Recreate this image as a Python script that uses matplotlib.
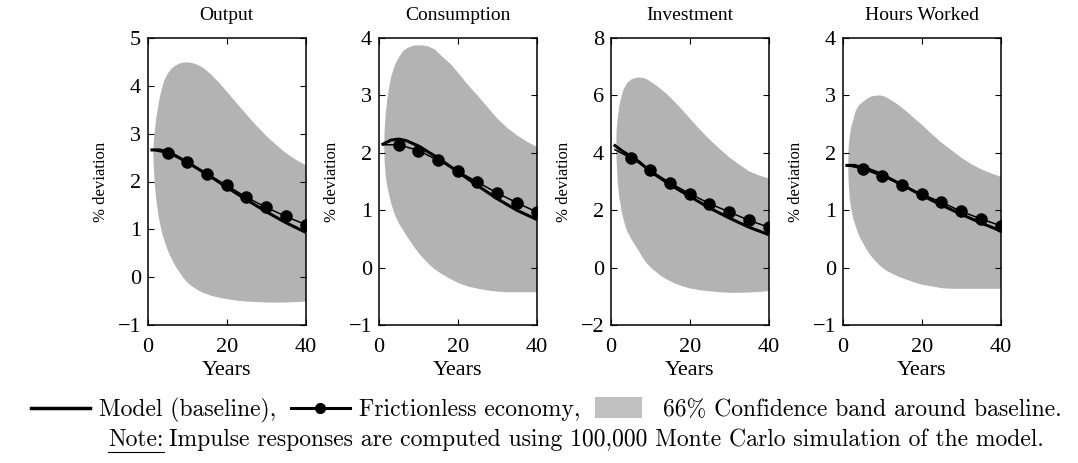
import matplotlib
matplotlib.use("Agg")
import matplotlib.pyplot as plt
from matplotlib.lines import Line2D
from matplotlib.patches import Patch, Rectangle
from matplotlib.legend_handler import HandlerPatch

# Panel titles and y-axis setup
titles = ["Output", "Consumption", "Investment", "Hours Worked"]
ylims = [(-1, 5), (-1, 4), (-2, 8), (-1, 4)]
ysteps = [1, 1, 2, 1]

# Model (baseline) impulse responses
model_x = [1, 3, 5, 7, 10, 15, 20, 25, 30, 35, 40]
model_output = [2.66, 2.66, 2.62, 2.54, 2.40, 2.15, 1.88, 1.62, 1.37, 1.14, 0.94]
model_cons = [2.15, 2.22, 2.24, 2.21, 2.12, 1.91, 1.67, 1.43, 1.20, 1.00, 0.84]
model_inv = [4.25, 4.05, 3.88, 3.70, 3.35, 2.89, 2.48, 2.08, 1.73, 1.41, 1.15]
model_hours = [1.78, 1.78, 1.74, 1.70, 1.62, 1.44, 1.26, 1.09, 0.93, 0.78, 0.64]

# Frictionless economy (markers every 5 years)
fric_x = [1, 5, 10, 15, 20, 25, 30, 35, 40]
fric_output = [2.66, 2.59, 2.41, 2.16, 1.92, 1.67, 1.46, 1.27, 1.10]
fric_cons = [2.14, 2.14, 2.04, 1.87, 1.68, 1.49, 1.30, 1.13, 0.97]
fric_inv = [4.11, 3.82, 3.39, 2.95, 2.58, 2.23, 1.94, 1.65, 1.41]
fric_hours = [1.78, 1.72, 1.59, 1.44, 1.28, 1.14, 0.98, 0.85, 0.73]

# 66% confidence band around baseline
band_x = [1.2, 1.3, 1.6, 2, 2.5, 3, 3.5, 4, 5, 6, 7, 8, 9, 10, 11, 12.5, 14,
          16, 18, 20, 22.5, 25, 27.5, 30, 32.5, 35, 37.5, 40]
band_output_hi = [2.66, 2.80, 3.08, 3.35, 3.60, 3.82, 3.98, 4.12, 4.28, 4.38, 4.44, 4.48, 4.50, 4.50,
                  4.49, 4.45, 4.38, 4.24, 4.07, 3.88, 3.64, 3.40, 3.17, 2.96, 2.77, 2.60, 2.46, 2.35]
band_output_lo = [2.66, 2.40, 1.95, 1.62, 1.32, 1.10, 0.92, 0.78, 0.55, 0.37, 0.22, 0.10, -0.02, -0.11,
                  -0.18, -0.26, -0.32, -0.38, -0.42, -0.45, -0.48, -0.50, -0.51, -0.52, -0.52, -0.52, -0.51, -0.50]
band_cons_hi = [2.14, 2.40, 2.70, 2.95, 3.17, 3.34, 3.45, 3.55, 3.68, 3.78, 3.83, 3.86, 3.88, 3.88,
                3.88, 3.86, 3.81, 3.68, 3.56, 3.40, 3.19, 3.00, 2.80, 2.60, 2.44, 2.31, 2.20, 2.11]
band_cons_lo = [2.14, 1.85, 1.58, 1.42, 1.26, 1.12, 1.01, 0.91, 0.77, 0.66, 0.55, 0.45, 0.35, 0.26,
                0.18, 0.07, -0.02, -0.11, -0.19, -0.26, -0.32, -0.36, -0.39, -0.41, -0.42, -0.42, -0.42, -0.42]
band_inv_hi = [4.23, 4.80, 5.25, 5.66, 5.95, 6.20, 6.33, 6.45, 6.57, 6.62, 6.64, 6.63, 6.58, 6.49,
               6.40, 6.24, 6.07, 5.80, 5.51, 5.20, 4.82, 4.47, 4.15, 3.85, 3.60, 3.37, 3.23, 3.12]
band_inv_lo = [4.23, 3.75, 2.95, 2.45, 2.05, 1.72, 1.48, 1.28, 1.02, 0.80, 0.58, 0.35, 0.16, 0.02,
               -0.10, -0.27, -0.39, -0.53, -0.63, -0.71, -0.77, -0.81, -0.84, -0.86, -0.86, -0.85, -0.83, -0.80]
band_hours_hi = [1.76, 2.10, 2.30, 2.47, 2.58, 2.72, 2.79, 2.84, 2.90, 2.95, 2.99, 3.00, 3.01, 3.00,
                 2.97, 2.91, 2.84, 2.73, 2.61, 2.49, 2.33, 2.18, 2.05, 1.92, 1.81, 1.72, 1.65, 1.59]
band_hours_lo = [1.76, 1.50, 1.20, 1.02, 0.86, 0.75, 0.65, 0.56, 0.43, 0.31, 0.21, 0.13, 0.06, 0.00,
                 -0.05, -0.10, -0.15, -0.20, -0.25, -0.29, -0.32, -0.35, -0.36, -0.36, -0.36, -0.36, -0.36, -0.36]

model = [model_output, model_cons, model_inv, model_hours]
fric = [fric_output, fric_cons, fric_inv, fric_hours]
band_hi = [band_output_hi, band_cons_hi, band_inv_hi, band_hours_hi]
band_lo = [band_output_lo, band_cons_lo, band_inv_lo, band_hours_lo]

plt.rcParams["font.family"] = "Liberation Serif"

band_color = "#b3b3b3"
fig = plt.figure(figsize=(10.78, 4.63), dpi=100)

lefts = [148, 379, 611, 843]
W, H = 1078.0, 463.0
for i in range(4):
    ax = fig.add_axes([lefts[i] / W, 1 - 325 / H, 157.5 / W, 287 / H])
    ax.fill_between(band_x, band_lo[i], band_hi[i], color=band_color, linewidth=0)
    ax.plot(model_x, model[i], color="black", linewidth=2.2)
    ax.plot(fric_x, fric[i], color="black", linewidth=1.1, marker="o",
            markersize=8, markevery=list(range(1, len(fric_x))))
    ax.set_xlim(0, 40)
    ax.set_ylim(*ylims[i])
    ax.set_xticks([0, 20, 40])
    lo, hi = ylims[i]
    ax.set_yticks(list(range(lo, hi + 1, ysteps[i])))
    ax.tick_params(direction="in", top=True, right=True, length=4,
                   width=0.8, labelsize=16)
    ax.tick_params(axis="x", pad=9)
    ax.tick_params(axis="y", pad=5)
    for s in ax.spines.values():
        s.set_linewidth(1.1)
    ax.set_title(titles[i], fontsize=14, pad=13)
    ax.set_xlabel("Years", fontsize=16, labelpad=3)
    ax.set_ylabel("% deviation", fontsize=12, labelpad=6)


# legend box drawn narrower than the handle slot, leaving a wider gap before its text
def band_box(legend, orig_handle, xdescent, ydescent, width, height, fontsize):
    return Rectangle((-xdescent, -ydescent - 0.15 * height), width * 0.8, height * 1.3)


fs = 17
handles = [
    Line2D([], [], color="black", linewidth=2.5),
    Line2D([], [], color="black", linewidth=2.2, marker="o", markersize=7),
    Patch(facecolor="#c0c0c0", edgecolor="none"),
]
labels = ["Model (baseline),", "Frictionless economy,", "66% Confidence band around baseline."]
fig.legend(handles, labels, loc="center", bbox_to_anchor=(0.507, 1 - 410 / H),
           ncol=3, frameon=False, handlelength=2.5, handletextpad=0.4,
           columnspacing=0.6, prop={"family": "cmr10", "size": fs},
           handler_map={Patch: HandlerPatch(patch_func=band_box)})

note_y = 1 - 440 / H
note = fig.text(108 / W, note_y, "Note:", family="cmr10", fontsize=fs, va="center")
rest = "Impulse responses are computed using 100,000 Monte Carlo simulation of the model."
fig.canvas.draw()
bb = note.get_window_extent()
fig.text(bb.x1 / W + 0.005, note_y, rest, family="cmr10", fontsize=fs, va="center")
fig.add_artist(Line2D([bb.x0 / W, bb.x1 / W], [(bb.y0 - 1) / H, (bb.y0 - 1) / H],
                      color="black", linewidth=0.8))

fig.savefig("out.png", dpi=100)
